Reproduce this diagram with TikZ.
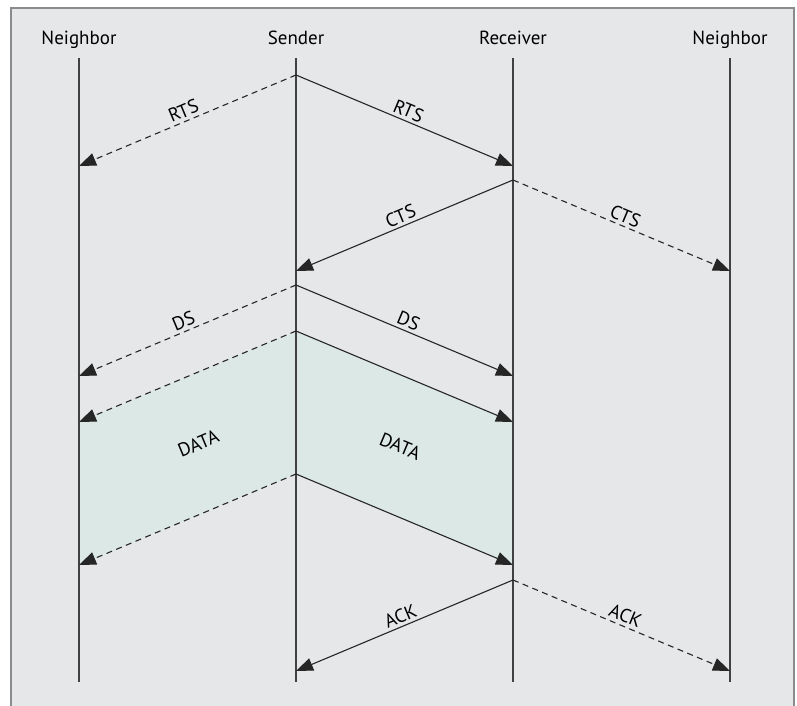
\documentclass[tikz,border=0pt]{standalone}
\usepackage{fontspec}
\setmainfont{PT Sans}
\usepackage{tikz}
\usetikzlibrary{arrows.meta,calc}
\usepackage{xcolor}
\definecolor{bggray}{HTML}{E6E7E9}
\definecolor{framegray}{HTML}{8A8B8D}
\definecolor{lifegray}{HTML}{414143}
\definecolor{datateal}{HTML}{DCE8E6}
\newcommand{\myfont}{\fontsize{19}{22}\selectfont}
\tikzset{
    bgsty/.style={fill=bggray},
    framesty/.style={draw=framegray,line width=1.3pt},
    namesty/.style={font=\myfont,anchor=base},
    lifesty/.style={draw=lifegray,line width=1.3pt},
    msgsty/.style={->,draw=black!85,line width=1.1pt},
    ovhsty/.style={msgsty,dash pattern=on 6pt off 4.5pt},
    msglblsty/.style={font=\myfont,midway,sloped,above,inner sep=3pt},
    datalblsty/.style={font=\myfont,sloped,inner sep=0pt},
    datasty/.style={fill=datateal},
}

\begin{document}
\begin{tikzpicture}[x=1pt,y=-1pt,>={Triangle[length=17pt,width=13pt]}]
  \useasboundingbox (0,0) rectangle (797,706);
  \fill[bgsty] (11,8) rectangle (794,706);
  \draw[framesty] (11,706) -- (11,8) -- (794,8) -- (794,706);

  \node[namesty] (nbl) at (79,45) {Neighbor};
  \node[namesty] (snd) at (296,45) {Sender};
  \node[namesty] (rcv) at (513,45) {Receiver};
  \node[namesty] (nbr) at (730,45) {Neighbor};

  \coordinate (nbltop) at (79,58);   \coordinate (nblbot) at (79,682);
  \coordinate (sndtop) at (296,58);  \coordinate (sndbot) at (296,682);
  \coordinate (rcvtop) at (513,58);  \coordinate (rcvbot) at (513,682);
  \coordinate (nbrtop) at (730,58);  \coordinate (nbrbot) at (730,682);

  \coordinate (s1) at (296,75);  \coordinate (r1) at (513,166); \coordinate (a1) at (79,166);
  \coordinate (r2) at (513,180); \coordinate (s2) at (296,271); \coordinate (b2) at (730,271);
  \coordinate (s3) at (296,285); \coordinate (r3) at (513,376); \coordinate (a3) at (79,376);
  \coordinate (s4) at (296,331); \coordinate (r4) at (513,422); \coordinate (a4) at (79,422);
  \coordinate (s5) at (296,474); \coordinate (r5) at (513,565); \coordinate (a5) at (79,565);
  \coordinate (r6) at (513,580); \coordinate (s6) at (296,671); \coordinate (b6) at (730,671);

  \fill[datasty] (a4) -- (s4) -- (r4) -- (r5) -- (s5) -- (a5) -- cycle;

  \draw[lifesty] (nbltop) -- (nblbot);
  \draw[lifesty] (sndtop) -- (sndbot);
  \draw[lifesty] (rcvtop) -- (rcvbot);
  \draw[lifesty] (nbrtop) -- (nbrbot);

  \draw[msgsty] (s1) -- (r1) node[msglblsty]{RTS};
  \draw[ovhsty] (s1) -- (a1) node[msglblsty]{RTS};
  \draw[msgsty] (r2) -- (s2) node[msglblsty]{CTS};
  \draw[ovhsty] (r2) -- (b2) node[msglblsty]{CTS};
  \draw[msgsty] (s3) -- (r3) node[msglblsty]{DS};
  \draw[ovhsty] (s3) -- (a3) node[msglblsty]{DS};
  \draw[msgsty] (s4) -- (r4);
  \draw[ovhsty] (s4) -- (a4);
  \draw[msgsty] (s5) -- (r5);
  \draw[ovhsty] (s5) -- (a5);
  \draw[msgsty] (r6) -- (s6) node[msglblsty]{ACK};
  \draw[ovhsty] (r6) -- (b6) node[msglblsty]{ACK};

  \path ($(a4)!.5!(a5)$) -- ($(s4)!.5!(s5)$) node[datalblsty,pos=0.55]{DATA};
  \path ($(s4)!.5!(s5)$) -- ($(r4)!.5!(r5)$) node[datalblsty,pos=0.48]{DATA};
\end{tikzpicture}
\end{document}
